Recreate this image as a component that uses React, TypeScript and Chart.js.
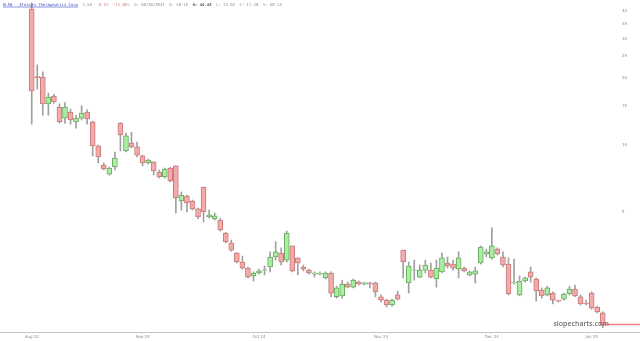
import { useEffect, useRef } from "react";
import { Chart, registerables } from "chart.js";
Chart.register(...registerables);

const opens = [40.8, 20.3, 20.2, 15.3, 16.6, 14.8, 13.2, 14.07, 12.7, 13.2, 14.07, 12.7, 9.9, 8.13, 7.4, 7.96, 12.55, 9.4, 10.2, 9.8, 8.93, 8.3, 8.4, 7.56, 7.18, 7.88, 8.05, 5.6, 5.9, 5.6, 5.16, 6.47, 4.75, 4.65, 4.6, 4.02, 3.63, 3.27, 2.98, 2.8, 2.58, 2.66, 2.73, 2.83, 3.14, 3.27, 3.04, 3.52, 3.11, 2.83, 2.74, 2.63, 2.63, 2.53, 2.66, 2.08, 2.1, 2.37, 2.3, 2.42, 2.37, 2.4, 2.4, 2.08, 2.01, 1.91, 2.12, 3.37, 2.4, 2.74, 2.55, 2.74, 2.74, 2.5, 2.69, 2.95, 2.92, 2.77, 2.8, 2.61, 2.63, 2.95, 3.24, 3.11, 3.41, 3.14, 2.92, 2.4, 2.12, 2.45, 2.69, 2.5, 2.23, 2.12, 2.16, 2.01, 2.03, 2.14, 2.25, 2.08, 1.95, 2.16, 1.87, 1.76];
const highs = [43.4, 22.9, 21.3, 17.1, 16.9, 15.3, 15.5, 14.5, 13.6, 15.0, 14.4, 12.8, 10.0, 8.3, 7.96, 9.3, 12.6, 11.3, 11.4, 10.3, 9.0, 8.65, 8.4, 7.72, 7.88, 7.96, 8.05, 6.15, 5.96, 5.66, 5.21, 6.47, 5.1, 4.95, 4.68, 4.06, 3.74, 3.29, 3.17, 2.83, 2.69, 2.77, 2.86, 3.31, 3.68, 3.45, 4.1, 3.52, 3.11, 2.89, 2.77, 2.69, 2.69, 2.69, 2.69, 2.32, 2.47, 2.42, 2.5, 2.45, 2.42, 2.42, 2.42, 2.12, 2.03, 2.03, 2.21, 3.37, 2.98, 3.04, 2.89, 3.04, 2.95, 3.04, 3.27, 3.14, 3.04, 3.31, 2.83, 2.72, 2.83, 3.52, 3.41, 4.24, 3.45, 3.31, 3.11, 3.07, 2.58, 2.55, 2.83, 2.53, 2.28, 2.32, 2.19, 2.01, 2.16, 2.32, 2.35, 2.12, 2.01, 2.19, 1.89, 1.78];
const lows = [12.4, 17.8, 13.6, 13.6, 15.4, 12.55, 12.5, 12.4, 11.9, 12.95, 12.4, 8.93, 8.3, 7.72, 7.33, 7.72, 9.4, 9.3, 9.7, 8.83, 8.05, 8.2, 7.33, 7.1, 7.1, 6.82, 4.95, 5.1, 5.0, 5.1, 4.65, 4.51, 4.7, 4.6, 4.1, 3.63, 3.33, 2.95, 2.77, 2.53, 2.45, 2.63, 2.61, 2.69, 3.04, 2.89, 2.98, 2.69, 2.61, 2.72, 2.63, 2.55, 2.61, 2.5, 2.08, 2.05, 2.05, 2.28, 2.28, 2.35, 2.35, 2.28, 2.08, 1.97, 1.87, 1.89, 2.01, 2.53, 2.16, 2.47, 2.53, 2.66, 2.53, 2.3, 2.66, 2.8, 2.74, 2.53, 2.69, 2.58, 2.4, 2.92, 3.14, 3.07, 3.2, 2.83, 2.12, 2.37, 2.1, 2.42, 2.42, 1.99, 2.05, 2.1, 1.93, 1.97, 2.01, 2.12, 2.08, 1.91, 1.91, 1.83, 1.76, 1.51];
const closes = [17.5, 20.0, 15.3, 16.4, 15.6, 12.7, 14.8, 12.95, 13.2, 13.9, 13.1, 9.9, 8.83, 7.8, 7.88, 8.74, 11.1, 11.0, 9.8, 9.0, 8.3, 8.56, 7.64, 7.18, 7.8, 6.89, 5.78, 5.96, 5.49, 5.16, 4.75, 5.0, 4.85, 4.8, 4.15, 3.68, 3.37, 2.98, 2.8, 2.55, 2.66, 2.72, 2.75, 3.14, 3.31, 2.98, 4.02, 2.72, 2.95, 2.77, 2.66, 2.66, 2.66, 2.66, 2.16, 2.28, 2.37, 2.3, 2.47, 2.37, 2.4, 2.37, 2.19, 2.01, 1.91, 2.01, 2.03, 2.98, 2.86, 2.75, 2.74, 2.89, 2.55, 2.8, 3.11, 2.86, 2.8, 3.11, 2.72, 2.69, 2.72, 3.48, 3.31, 3.52, 3.24, 2.89, 2.14, 2.42, 2.45, 2.53, 2.55, 2.21, 2.1, 2.28, 2.01, 1.99, 2.14, 2.25, 2.1, 1.93, 1.93, 1.85, 1.78, 1.56];

const xTickIndex = [0, 20, 41, 63, 83, 101];
const xTickLabels = ["Aug 24", "Sep 24", "Oct 24", "Nov 24", "Dec 24", "Jan 25"];
const yTicks = [5, 10, 15, 20, 25, 30, 35, 40];

const headerParts = [
  { text: "ELSN - Elesion Therapeutics Corp", color: "#3b4fc4", bold: false, underline: true },
  { text: "  1.56", color: "#8a8a8a", bold: false, underline: false },
  { text: "  -0.21  -11.86%", color: "#e07070", bold: false, underline: false },
  { text: "  D: 08/30/2024  O: 40.16", color: "#8a8a8a", bold: false, underline: false },
  { text: "  H: 44.48", color: "#555555", bold: true, underline: false },
  { text: "  L: 13.02  C: 17.18  V: 60.13", color: "#8a8a8a", bold: false, underline: false },
];

const UP_FILL = "#a9efa0";
const UP_BORDER = "#6aa860";
const DOWN_FILL = "#f5aaaa";
const DOWN_BORDER = "#c77a7a";

const overlayPlugin = {
  id: "overlay",
  afterDraw(chart: any) {
    const ctx = chart.ctx;
    const xs = chart.scales.x;
    const ys = chart.scales.y;
    const area = chart.chartArea;
    ctx.save();
    ctx.strokeStyle = "#c4c4c4";
    ctx.lineWidth = 1;
    ctx.beginPath();
    ctx.moveTo(0, Math.round(area.bottom) + 0.5);
    ctx.lineTo(chart.width, Math.round(area.bottom) + 0.5);
    ctx.stroke();
    const last = closes.length - 1;
    const py = ys.getPixelForValue(closes[last]);
    ctx.strokeStyle = "#ef7f7f";
    ctx.lineWidth = 1.5;
    ctx.beginPath();
    ctx.moveTo(xs.getPixelForValue(last), py);
    ctx.lineTo(chart.width, py);
    ctx.stroke();
    ctx.fillStyle = "#6f6f6f";
    ctx.font = "600 7px 'Open Sans', sans-serif";
    ctx.textAlign = "right";
    ctx.textBaseline = "alphabetic";
    ctx.fillText("slopecharts.com", 609, 326);
    ctx.textAlign = "left";
    let hx = 3;
    const hy = 6;
    for (const p of headerParts) {
      ctx.font = (p.bold ? "bold " : "") + "3.9px 'DejaVu Sans Mono', monospace";
      ctx.fillStyle = p.color;
      ctx.fillText(p.text, hx, hy);
      const w = ctx.measureText(p.text).width;
      if (p.underline) {
        ctx.strokeStyle = p.color;
        ctx.lineWidth = 0.6;
        ctx.beginPath();
        ctx.moveTo(hx, hy + 1);
        ctx.lineTo(hx + w, hy + 1);
        ctx.stroke();
      }
      hx += w;
    }
    ctx.restore();
  },
};

export default function App() {
  const ref = useRef<HTMLCanvasElement | null>(null);
  useEffect(() => {
    document.body.style.margin = "0";
    const canvas = ref.current;
    if (!canvas) return;
    const idx = opens.map((_, i) => i);
    const isUp = idx.map((i) => closes[i] >= opens[i]);
    const chart = new Chart(canvas, {
      type: "bar",
      data: {
        datasets: [
          {
            label: "body",
            data: idx.map((i) => ({ x: i, y: [opens[i], closes[i]] })) as any,
            backgroundColor: isUp.map((u) => (u ? UP_FILL : DOWN_FILL)),
            borderColor: isUp.map((u) => (u ? UP_BORDER : DOWN_BORDER)),
            borderWidth: 1,
            borderSkipped: false,
            barThickness: 5,
            grouped: false,
            order: 0,
          } as any,
          {
            label: "wick",
            data: idx.map((i) => ({ x: i, y: [lows[i], highs[i]] })) as any,
            backgroundColor: "#a0a0a0",
            borderWidth: 0,
            barThickness: 1,
            grouped: false,
            order: 1,
          } as any,
        ],
      },
      options: {
        responsive: false,
        animation: false,
        devicePixelRatio: 1,
        layout: { padding: 0 },
        plugins: { legend: { display: false }, tooltip: { enabled: false } },
        scales: {
          x: {
            type: "linear",
            min: -5.72,
            max: 104.67,
            offset: false,
            grid: { display: false, drawTicks: false },
            border: { display: false },
            afterBuildTicks: (scale: any) => {
              scale.ticks = xTickIndex.map((v) => ({ value: v }));
            },
            afterFit: (scale: any) => {
              scale.height = 9;
              scale.paddingLeft = 0;
              scale.paddingRight = 0;
            },
            ticks: {
              autoSkip: false,
              maxRotation: 0,
              padding: 3,
              color: "#8c8c8c",
              font: { size: 4, family: "'DejaVu Sans', sans-serif" },
              callback: (v: any) => {
                const k = xTickIndex.indexOf(Number(v));
                return k >= 0 ? xTickLabels[k] : "";
              },
            },
          },
          y: {
            type: "logarithmic",
            position: "right",
            min: 1.445,
            max: 44.8,
            grid: { display: false, drawTicks: false },
            border: { display: false },
            afterBuildTicks: (scale: any) => {
              scale.ticks = yTicks.map((v) => ({ value: v }));
            },
            afterFit: (scale: any) => {
              scale.width = 28;
              scale.paddingTop = 0;
              scale.paddingBottom = 0;
            },
            ticks: {
              padding: 10,
              color: "#8c8c8c",
              font: { size: 4, family: "'DejaVu Sans', sans-serif" },
              callback: (v: any) => String(v),
            },
          },
        },
      },
      plugins: [overlayPlugin],
    } as any);
    return () => chart.destroy();
  }, []);
  return (
    <div style={{ position: "absolute", left: 0, top: 0, width: 640, height: 341, background: "#fff" }}>
      <canvas ref={ref} width={640} height={341} style={{ width: 640, height: 341, display: "block" }} />
    </div>
  );
}
